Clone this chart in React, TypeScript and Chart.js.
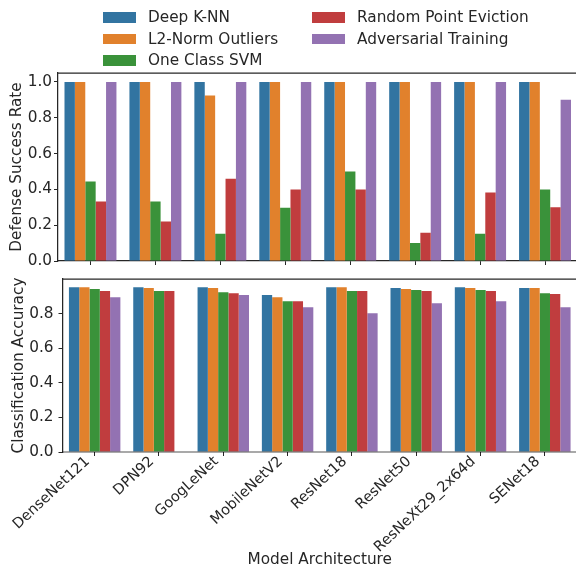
import React, { useEffect, useRef } from 'react';
import { Chart, registerables } from 'chart.js';
Chart.register(...registerables);

const categories = ['DenseNet121', 'DPN92', 'GoogLeNet', 'MobileNetV2', 'ResNet18', 'ResNet50', 'ResNeXt29_2x64d', 'SENet18'];
const seriesNames = ['Deep K-NN', 'L2-Norm Outliers', 'One Class SVM', 'Random Point Eviction', 'Adversarial Training'];
const colors = ['#3274a1', '#e1812c', '#3a923a', '#c03d3e', '#9372b2'];

// Defense Success Rate (top panel)
const defDeepKNN = [1.0, 1.0, 1.0, 1.0, 1.0, 1.0, 1.0, 1.0];
const defL2Norm = [1.0, 1.0, 0.925, 1.0, 1.0, 1.0, 1.0, 1.0];
const defOCSVM = [0.444, 0.333, 0.152, 0.298, 0.5, 0.1, 0.152, 0.4];
const defRandom = [0.333, 0.22, 0.46, 0.4, 0.4, 0.158, 0.382, 0.3];
const defAdv = [1.0, 1.0, 1.0, 1.0, 1.0, 1.0, 1.0, 0.9];

// Classification Accuracy (bottom panel)
const accDeepKNN = [0.953, 0.953, 0.953, 0.907, 0.953, 0.948, 0.953, 0.948];
const accL2Norm = [0.953, 0.948, 0.948, 0.895, 0.953, 0.942, 0.948, 0.948];
const accOCSVM = [0.942, 0.93, 0.924, 0.872, 0.93, 0.936, 0.936, 0.918];
const accRandom = [0.93, 0.93, 0.918, 0.872, 0.93, 0.93, 0.93, 0.913];
const accAdv = [0.895, null, 0.907, 0.837, 0.802, 0.86, 0.872, 0.837];

const topTicks = [0, 0.2, 0.4, 0.6, 0.8, 1.0];
const bottomTicks = [0, 0.2, 0.4, 0.6, 0.8];

const TEXT = '#262626';
const FONT = '"DejaVu Sans", sans-serif';
const FS = 15.3;
const XFS = 14.5;

function datasets(series: (number | null)[][]) {
  return series.map((d, i) => ({
    label: seriesNames[i],
    data: d,
    backgroundColor: colors[i],
    borderWidth: 0,
    barPercentage: 1,
    categoryPercentage: 0.8,
  }));
}

const spinePlugin = (bottomGray: boolean) => ({
  id: 'spines' + (bottomGray ? 'B' : 'T'),
  afterDatasetsDraw(chart: any) {
    const { ctx, chartArea } = chart;
    ctx.save();
    ctx.strokeStyle = TEXT;
    ctx.lineWidth = 1.25;
    ctx.beginPath();
    ctx.moveTo(chartArea.left, chartArea.top);
    ctx.lineTo(chartArea.right + 5, chartArea.top);
    ctx.stroke();
    if (bottomGray) {
      ctx.strokeStyle = 'rgba(0,0,0,0.45)';
      ctx.lineWidth = 1.6;
      ctx.beginPath();
      ctx.moveTo(chartArea.left, chartArea.bottom);
      ctx.lineTo(chartArea.right + 5, chartArea.bottom);
      ctx.stroke();
    }
    ctx.restore();
  },
});

export default function App() {
  const topRef = useRef<HTMLCanvasElement>(null);
  const botRef = useRef<HTMLCanvasElement>(null);

  useEffect(() => {
    Chart.defaults.font.family = FONT;
    Chart.defaults.color = TEXT;

    const top = new Chart(topRef.current!, {
      type: 'bar',
      data: {
        labels: categories,
        datasets: datasets([defDeepKNN, defL2Norm, defOCSVM, defRandom, defAdv]) as any,
      },
      options: {
        responsive: false,
        animation: false,
        devicePixelRatio: 1,
        layout: { padding: { top: 73, left: 0, right: 2.5, bottom: 0 } },
        plugins: { legend: { display: false }, tooltip: { enabled: false } },
        scales: {
          x: {
            ticks: { display: false },
            grid: { display: true, offset: false, drawOnChartArea: false, drawTicks: true, tickLength: 4, color: TEXT },
            border: { display: true, color: TEXT, width: 1.25 },
            afterFit: (s: any) => { s.height = 29; },
          },
          y: {
            min: 0,
            max: 1.05,
            afterBuildTicks: (s: any) => { s.ticks = topTicks.map((v) => ({ value: v })); },
            ticks: { font: { size: FS }, color: TEXT, padding: 2, callback: (v: any) => Number(v).toFixed(1) },
            grid: { display: true, drawOnChartArea: false, drawTicks: true, tickLength: 4, color: TEXT },
            border: { display: true, color: TEXT, width: 1.25 },
            title: { display: true, text: 'Defense Success Rate', font: { size: FS }, color: TEXT, padding: { top: 8, bottom: 0 } },
            afterFit: (s: any) => { s.width = 58; },
          },
        },
      },
      plugins: [spinePlugin(false)],
    });

    const bot = new Chart(botRef.current!, {
      type: 'bar',
      data: {
        labels: categories,
        datasets: datasets([accDeepKNN, accL2Norm, accOCSVM, accRandom, accAdv]) as any,
      },
      options: {
        responsive: false,
        animation: false,
        devicePixelRatio: 1,
        layout: { padding: { top: 29, left: 0, right: 3, bottom: 0 } },
        plugins: { legend: { display: false }, tooltip: { enabled: false } },
        scales: {
          x: {
            ticks: { autoSkip: false, maxRotation: 43, minRotation: 43, font: { size: XFS }, color: TEXT, padding: -3, labelOffset: -7 },
            grid: { display: true, offset: false, drawOnChartArea: false, drawTicks: true, tickLength: 4, color: TEXT },
            border: { display: false },
            title: { display: true, text: 'Model Architecture', font: { size: FS }, color: TEXT, padding: { top: 0, bottom: 0 } },
            afterFit: (s: any) => { s.height = 117; },
          },
          y: {
            min: 0,
            max: 1.0,
            afterBuildTicks: (s: any) => { s.ticks = bottomTicks.map((v) => ({ value: v })); },
            ticks: { font: { size: FS }, color: TEXT, padding: 5, callback: (v: any) => Number(v).toFixed(1) },
            grid: { display: true, drawOnChartArea: false, drawTicks: true, tickLength: 4, color: TEXT },
            border: { display: true, color: TEXT, width: 1.25 },
            title: { display: true, text: 'Classification Accuracy', font: { size: FS }, color: TEXT, padding: { top: 10, bottom: 0 } },
            afterFit: (s: any) => { s.width = 62.5; },
          },
        },
      },
      plugins: [spinePlugin(true)],
    });

    return () => {
      top.destroy();
      bot.destroy();
    };
  }, []);

  return (
    <div style={{ position: 'absolute', left: 0, top: 0, width: 576, height: 569, overflow: 'hidden', background: '#fff' }}>
      <canvas ref={topRef} width={580} height={290} style={{ position: 'absolute', left: 0, top: 0 }} />
      <canvas ref={botRef} width={580} height={319} style={{ position: 'absolute', left: 0, top: 250 }} />
      {seriesNames.map((n, i) => {
        const col = i < 3 ? 0 : 1;
        const row = i < 3 ? i : i - 3;
        return (
          <div
            key={n}
            style={{
              position: 'absolute',
              left: col ? 312 : 103,
              top: 7.2 + row * 21.3,
              height: 21,
              display: 'flex',
              alignItems: 'center',
              font: FS + 'px ' + FONT,
              lineHeight: '21px',
              color: TEXT,
              whiteSpace: 'nowrap',
            }}
          >
            <span style={{ display: 'inline-block', width: 33, height: 10.5, background: colors[i], marginRight: 12 }} />
            {n}
          </div>
        );
      })}
    </div>
  );
}
